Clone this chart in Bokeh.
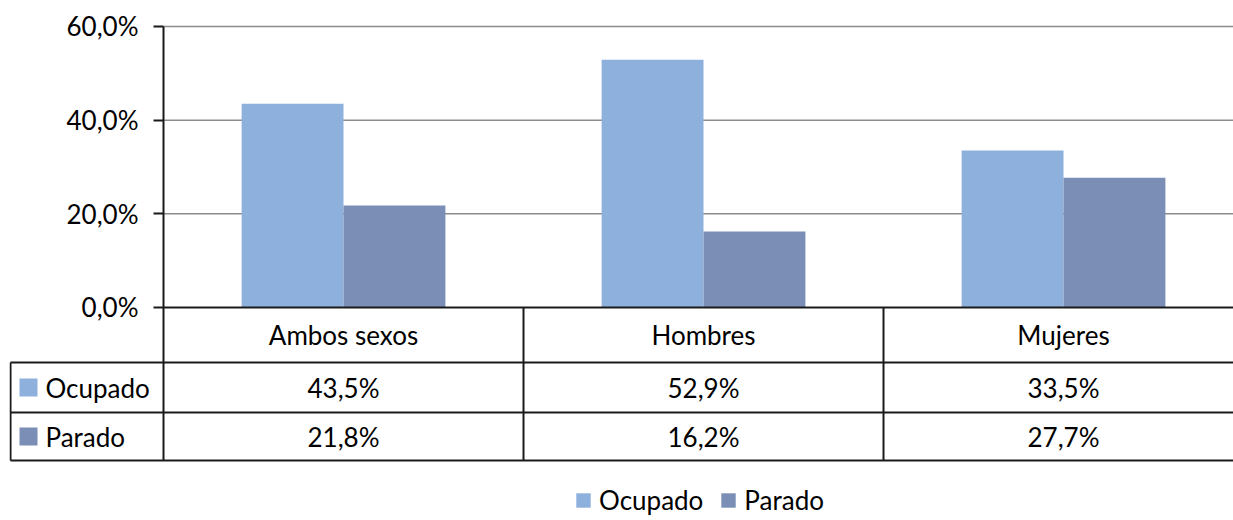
from bokeh.plotting import figure
from bokeh.models import (ColumnDataSource, LinearAxis, FixedTicker, Legend, LegendItem, Range1d)
from bokeh.transform import dodge
from bokeh.core.properties import value
from bokeh.embed import file_html
from bokeh.resources import INLINE

# ---- data ----
categories = ["Ambos sexos", "Hombres", "Mujeres"]
ocupado = [43.5, 52.9, 33.5]
parado = [21.8, 16.2, 27.7]
series_names = ["Ocupado", "Parado"]
y_ticks = [0, 20, 40, 60]

# ---- style ----
C_OCU = "#8EB0DD"
C_PAR = "#7A8EB6"
FONT = "Lato"
FS = "26px"
GRID = "#8C8C8C"
LINE = "#1A1A1A"

# layout constants (data units)
X_START, X_END = -0.4278, 2.9722
Y_TOP, Y_BOTTOM = 64.48, -45.48
ROW_LINES = [0, -11.75, -22.42, -32.67]
LEFT_COL = -0.425
BAR_W = 0.283

fmt = lambda v: f"{v:.1f}".replace(".", ",") + "%"

xc = [i + 0.5 for i in range(len(categories))]
src = ColumnDataSource(dict(xc=xc, cat=categories, ocupado=ocupado, parado=parado,
                            ocu_lbl=[fmt(v) for v in ocupado],
                            par_lbl=[fmt(v) for v in parado]))

p = figure(width=1233, height=520, output_backend="svg", toolbar_location=None,
           x_range=Range1d(X_START, X_END), y_range=Range1d(Y_BOTTOM, Y_TOP),
           x_axis_location=None, y_axis_location=None,
           min_border_left=9, min_border_right=0, min_border_top=5, min_border_bottom=0,
           outline_line_color=None, background_fill_color="white")
p.xgrid.visible = False
p.ygrid.visible = False

# gridlines (only over plot area)
gl = [t for t in y_ticks if t > 0]
p.segment(x0=[0] * len(gl), x1=[X_END] * len(gl), y0=gl, y1=gl, line_color=GRID, line_width=1.5)

# bars
r_ocu = p.vbar(x=dodge("xc", -BAR_W / 2, range=p.x_range), top="ocupado", bottom=0, width=BAR_W,
               source=src, fill_color=C_OCU, line_color=None)
r_par = p.vbar(x=dodge("xc", BAR_W / 2, range=p.x_range), top="parado", bottom=0, width=BAR_W,
               source=src, fill_color=C_PAR, line_color=None)

# table lines
p.segment(x0=[0], x1=[X_END], y0=[ROW_LINES[0]], y1=[ROW_LINES[0]], line_color=LINE, line_width=2)
p.segment(x0=[LEFT_COL] * 3, x1=[X_END] * 3, y0=ROW_LINES[1:], y1=ROW_LINES[1:], line_color=LINE, line_width=2)
p.segment(x0=[1, 2], x1=[1, 2], y0=[ROW_LINES[0]] * 2, y1=[ROW_LINES[3]] * 2, line_color=LINE, line_width=2)
p.segment(x0=[LEFT_COL], x1=[LEFT_COL], y0=[ROW_LINES[1]], y1=[ROW_LINES[3]], line_color=LINE, line_width=2)

mid = lambda a, b: (a + b) / 2
row_c = [mid(ROW_LINES[i], ROW_LINES[i + 1]) for i in range(3)]

p.text(x="xc", y=row_c[0], text="cat", source=src, text_font=value(FONT), text_font_size=FS,
       text_align="center", text_baseline="middle", text_color="black")
p.text(x="xc", y=row_c[1], text="ocu_lbl", source=src, text_font=value(FONT), text_font_size=FS,
       text_align="center", text_baseline="middle", text_color="black")
p.text(x="xc", y=row_c[2], text="par_lbl", source=src, text_font=value(FONT), text_font_size=FS,
       text_align="center", text_baseline="middle", text_color="black")

# row headers with keys
p.rect(x=[-0.375, -0.375], y=row_c[1:], width=18, height=18, width_units="screen", height_units="screen",
       fill_color=[C_OCU, C_PAR], line_color=None)
p.text(x=[-0.328, -0.328], y=row_c[1:], text=series_names, text_font=value(FONT), text_font_size=FS,
       text_align="left", text_baseline="middle", text_color="black")

# y axis at x=0
yax = LinearAxis(fixed_location=0, ticker=FixedTicker(ticks=y_ticks), bounds=(ROW_LINES[3], 60))
yax.major_label_overrides = {t: fmt(t) for t in y_ticks}
yax.axis_line_color = LINE
yax.axis_line_width = 2
yax.major_tick_line_color = LINE
yax.major_tick_line_width = 2
yax.major_tick_out = 10
yax.major_tick_in = 0
yax.minor_tick_line_color = None
yax.major_label_text_font = FONT
yax.major_label_text_font_size = FS
yax.major_label_text_color = "black"
yax.major_label_standoff = 15
p.add_layout(yax, "left")

legend = Legend(items=[LegendItem(label=series_names[0], renderers=[r_ocu]),
                       LegendItem(label=series_names[1], renderers=[r_par])],
                orientation="horizontal", location=(565, 4), padding=0, margin=0, spacing=16,
                glyph_width=18, glyph_height=18, label_standoff=7, label_height=24,
                label_text_font=FONT, label_text_font_size=FS, label_text_color="black",
                border_line_color=None, background_fill_alpha=0)
p.add_layout(legend)

open("out.html", "w").write(file_html(p, INLINE))
